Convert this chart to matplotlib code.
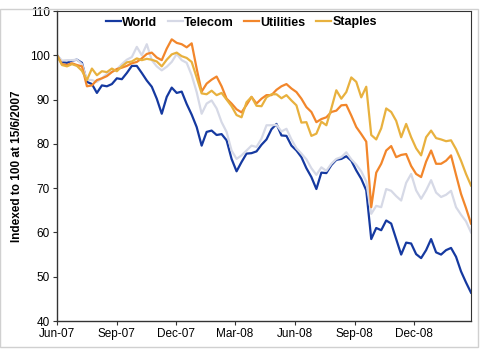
import matplotlib
matplotlib.use("Agg")
import matplotlib.pyplot as plt
import pandas as pd
from matplotlib.patches import Rectangle

plt.rcParams['font.family'] = ['Liberation Sans', 'DejaVu Sans']

start_date = "2007-06-15"
end_date = "2009-03-13"

world = [100, 98.5, 98.3, 98.8, 99.0, 98.3, 94.0, 93.5, 91.5, 93.2,
         93.0, 93.5, 94.8, 94.6, 96.0, 97.6, 97.6, 96.0, 94.3, 92.9,
         90.2, 86.8, 90.6, 92.7, 91.5, 91.8, 89.0, 86.6, 83.8, 79.6,
         82.7, 83.0, 82.0, 82.2, 80.8, 76.6, 73.8, 75.9, 77.8, 77.9,
         78.3, 79.8, 81.0, 83.3, 84.5, 81.9, 81.8, 79.6, 78.5, 77.0,
         74.5, 72.5, 69.8, 73.5, 73.4, 75.2, 76.4, 76.6, 77.2, 76.2,
         74.0, 72.1, 69.5, 58.5, 61.0, 60.5, 62.7, 62.0, 58.5, 55.0,
         57.7, 57.5, 55.1, 54.2, 56.0, 58.5, 55.5, 55.0, 56.0, 56.5,
         54.5, 51.2, 48.7, 46.4]

telecom = [100, 98.8, 98.9, 98.9, 99.0, 98.0, 94.5, 94.4, 94.0, 94.8,
           95.8, 96.3, 96.8, 98.0, 99.0, 99.6, 101.9, 100.0, 102.5, 98.9,
           97.5, 96.6, 97.4, 98.5, 100.3, 98.9, 98.3, 95.5, 91.7, 86.8,
           89.1, 89.8, 88.0, 84.9, 82.7, 78.5, 76.6, 77.4, 78.5, 79.6,
           79.3, 81.2, 84.2, 84.2, 84.3, 82.8, 83.4, 81.0, 79.0, 77.8,
           76.5, 74.5, 73.0, 74.7, 73.9, 75.5, 76.6, 77.0, 78.1, 76.5,
           75.3, 73.8, 71.5, 64.2, 66.0, 65.7, 69.8, 69.4, 68.2, 67.2,
           71.2, 73.2, 69.5, 67.6, 69.5, 71.8, 69.0, 68.0, 68.5, 69.4,
           65.7, 64.0, 62.5, 60.0]

utilities = [100, 98.0, 97.8, 98.2, 97.8, 97.5, 93.0, 93.2, 94.4, 94.8,
             95.3, 96.2, 96.9, 97.2, 97.6, 98.2, 98.5, 99.3, 100.3, 100.6,
             99.5, 98.9, 101.5, 103.6, 102.8, 102.5, 101.8, 102.7, 97.0, 91.8,
             93.6, 94.5, 95.2, 93.0, 90.2, 89.1, 87.8, 87.1, 88.8, 90.6,
             89.1, 90.2, 91.0, 91.0, 92.2, 93.0, 93.5, 92.5, 91.7, 90.2,
             88.3, 87.2, 84.9, 85.6, 86.0, 87.2, 87.5, 88.7, 88.8, 86.4,
             83.8, 82.2, 80.5, 65.7, 73.5, 75.5, 78.5, 79.5, 77.0, 77.5,
             77.7, 75.0, 73.2, 72.5, 76.0, 78.5, 75.5, 75.5, 76.2, 77.4,
             73.0, 68.7, 65.5, 62.0]

staples = [100, 97.8, 97.5, 98.0, 97.6, 96.5, 94.4, 97.0, 95.5, 96.4,
           96.2, 97.0, 96.4, 97.5, 98.4, 98.6, 99.3, 98.9, 99.2, 99.0,
           98.6, 97.5, 99.0, 100.2, 100.6, 99.8, 99.4, 98.5, 95.0, 91.4,
           91.2, 92.0, 91.0, 91.5, 90.0, 88.5, 86.5, 86.0, 89.4, 90.6,
           88.6, 88.5, 90.5, 91.2, 91.2, 90.3, 91.0, 89.8, 88.7, 84.8,
           84.9, 81.8, 82.3, 85.0, 84.2, 88.0, 92.1, 90.2, 91.7, 95.0,
           94.0, 90.5, 92.9, 82.0, 81.0, 83.5, 88.0, 87.2, 85.2, 81.5,
           84.5, 81.5, 79.0, 77.4, 81.5, 83.0, 81.3, 81.0, 80.6, 80.8,
           78.8, 76.2, 73.2, 70.6]

series_names = ["World", "Telecom", "Utilities", "Staples"]
series_colors = ["#1539A0", "#D6D9E6", "#F2862B", "#E8B13E"]

tick_dates = ["2007-06-15", "2007-09-15", "2007-12-15", "2008-03-15",
              "2008-06-15", "2008-09-15", "2008-12-15"]
tick_labels = ["Jun-07", "Sep-07", "Dec-07", "Mar-08", "Jun-08", "Sep-08", "Dec-08"]
y_ticks = [40, 50, 60, 70, 80, 90, 100, 110]

dates = pd.date_range(start_date, end_date, periods=len(world))

fig = plt.figure(figsize=(4.88, 3.56), dpi=100)
ax = fig.add_axes([57/488, 35/356, 414/488, 310/356])

for name, vals, col in zip(series_names, [world, telecom, utilities, staples], series_colors):
    ax.plot(dates, vals, color=col, lw=1.6, label=name, solid_joinstyle='round')

ax.set_xlim(pd.Timestamp(start_date), pd.Timestamp(end_date))
ax.set_ylim(40, 110)
ax.set_yticks(y_ticks)
ax.set_yticklabels([str(v) for v in y_ticks], fontsize=8.5)
ax.set_xticks([pd.Timestamp(d) for d in tick_dates])
ax.set_xticklabels(tick_labels, fontsize=8.5)
ax.tick_params(axis='both', direction='out', length=3, width=0.8, color='#333333', pad=2)
ax.set_ylabel("Indexed to 100 at 15/6/2007", fontsize=8.5, fontweight='bold', labelpad=5)

for s in ['left', 'bottom']:
    ax.spines[s].set_color('#333333')
    ax.spines[s].set_linewidth(1.0)
for s in ['top', 'right']:
    ax.spines[s].set_color('#333333')
    ax.spines[s].set_linewidth(0.8)

leg = ax.legend(loc='center', bbox_to_anchor=(0.4457, 1 - 11.5/310), ncol=4, frameon=False,
                handlelength=1.2, handletextpad=0.1, columnspacing=0.85,
                prop={'weight': 'bold', 'size': 9}, borderaxespad=0.0, borderpad=0.0)

fig.patches.append(Rectangle((0, 9/356), 478/488, 347/356 - 9/356, transform=fig.transFigure,
                             fill=False, edgecolor='#D0D0D0', lw=1.0))

fig.savefig("out.png", dpi=100)
